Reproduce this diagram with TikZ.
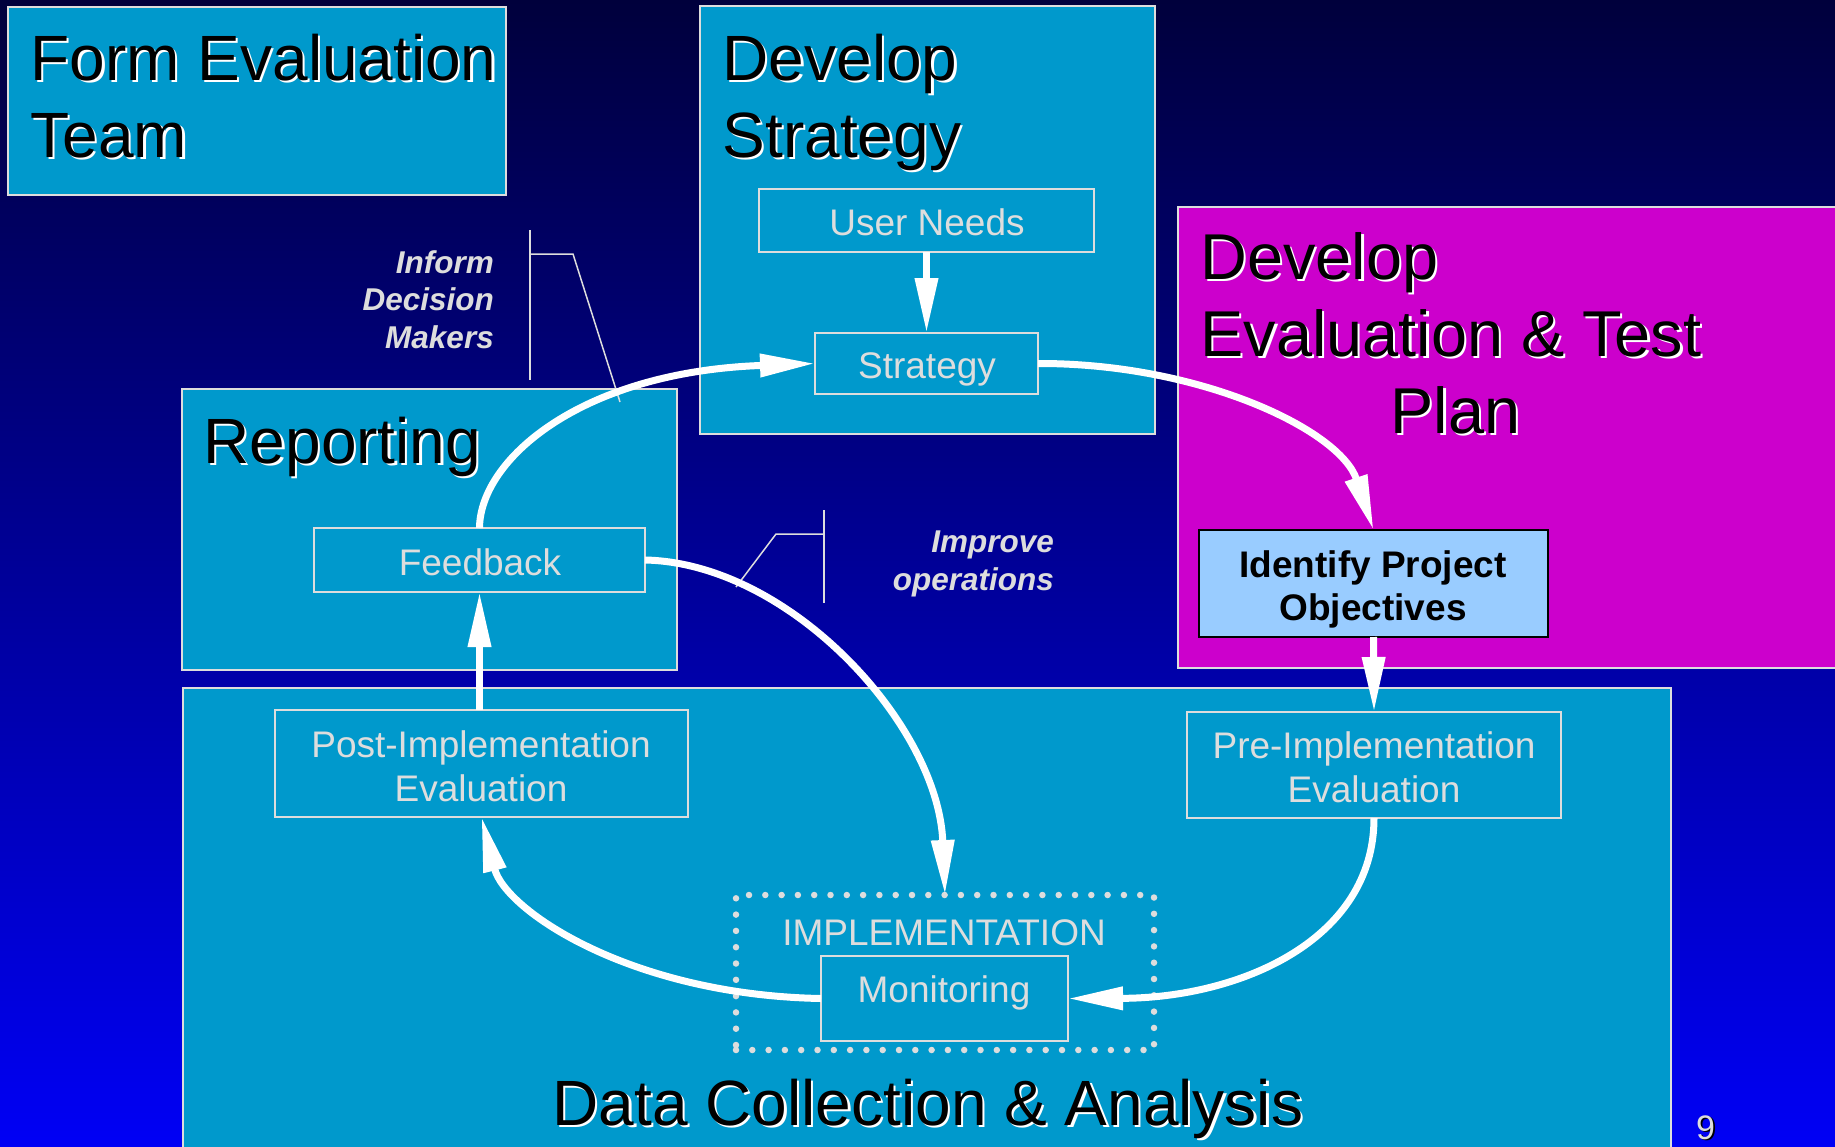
\documentclass[tikz,border=0pt]{standalone}
\usepackage{fontspec}
\setmainfont{Liberation Sans}
\usetikzlibrary{arrows.meta,calc}
\definecolor{bgtop}{RGB}{0,0,60}
\definecolor{bgbot}{RGB}{0,0,245}
\definecolor{cyanbox}{RGB}{0,153,204}
\definecolor{magbox}{RGB}{204,0,204}
\definecolor{idbox}{RGB}{153,204,255}
\definecolor{lgray}{RGB}{221,221,221}
\newcommand\shd[1]{\leavevmode\rlap{\kern2.2pt\raisebox{-2.2pt}{\textcolor{white}{#1}}}\textcolor{black}{#1}}
\newcommand\dshd[1]{\leavevmode\rlap{\kern1.6pt\raisebox{-1.6pt}{\textcolor{black}{#1}}}\textcolor{lgray}{#1}}
\begin{document}
\begin{tikzpicture}[x=1pt,y=-1pt,
  container/.style={draw=lgray, line width=2.5pt, fill=cyanbox, anchor=north west, inner sep=0pt, outer sep=0pt},
  inbox/.style={draw=lgray, line width=1.8pt, anchor=north west, inner sep=0pt, outer sep=0pt},
  titletext/.style={font=\fontsize{64}{77}\selectfont, align=left, inner sep=0pt, anchor=base west},
  boxtext/.style={font=\fontsize{37}{44}\selectfont, text=lgray, align=center, inner sep=0pt, anchor=base},
  notetext/.style={font=\fontsize{31.5}{37.5}\selectfont\bfseries\itshape, text=lgray, align=right, inner sep=0pt, anchor=base east},
  flow/.style={draw=white, line width=7pt, -{Triangle[length=55pt,width=22pt]}},
  bracket/.style={draw=lgray, line width=1.5pt}
]
\useasboundingbox (0,0) rectangle (1835,1146);
\shade[top color=bgtop, bottom color=bgbot] (0,0) rectangle (1835,1146);

% containers
\node[container, minimum width=498pt, minimum height=188pt] (fet) at (8,7) {};
\node[container, minimum width=455pt, minimum height=428pt] (dstrat) at (700,6) {};
\node[container, minimum width=495pt, minimum height=281pt] (rep) at (182,389) {};
\node[container, fill=magbox, minimum width=672pt, minimum height=461pt] (mag) at (1178,207) {};
\node[container, minimum width=1488pt, minimum height=472pt] (data) at (183,688) {};

% titles (multi-line nodes are placed by the baseline of their last line)
\node[titletext] (fetT) at (30.5,157) {\shd{Form Evaluation}\\\shd{Team}};
\node[titletext] (dsT) at (722.5,157) {\shd{Develop}\\\shd{Strategy}};
\node[titletext] (repT) at (203.5,463) {\shd{Reporting}};
\node[titletext, font=\fontsize{64.8}{77}\selectfont] (magT) at (1200.5,433) {\shd{Develop}\\\shd{Evaluation \& Test}\\\hspace*{190pt}\shd{Plan}};
\node[titletext, anchor=base, align=center] (dataT) at (928,1125) {\shd{Data Collection \& Analysis}};

% inner boxes
\node[inbox, minimum width=335pt, minimum height=63pt] (un) at (759,189) {};
\node[inbox, minimum width=223pt, minimum height=61pt] (st) at (815,333) {};
\node[inbox, minimum width=331pt, minimum height=64pt] (fb) at (314,528) {};
\node[inbox, minimum width=413pt, minimum height=107pt] (post) at (275,710) {};
\node[inbox, minimum width=374pt, minimum height=106pt] (pre) at (1187,712) {};
\node[inbox, draw=black, line width=2.5pt, fill=idbox, minimum width=349pt, minimum height=107pt] (ipo) at (1199,530) {};
\node[inbox, draw=lgray, line width=6.5pt, line cap=round, dash pattern=on 0pt off 16.3pt, minimum width=418pt, minimum height=155pt] (impl) at (736,895) {};
\node[inbox, minimum width=247pt, minimum height=85pt] (mon) at (821,956) {};

% inner texts
\node[boxtext] (unT) at (927,235) {User Needs};
\node[boxtext] (stT) at (927,378) {Strategy};
\node[boxtext] (fbT) at (480,575) {Feedback};
\node[boxtext] (postT) at (481,801) {Post-Implementation\\Evaluation};
\node[boxtext] (preT) at (1374,802) {Pre-Implementation\\Evaluation};
\node[boxtext, text=black, font=\fontsize{37}{43}\selectfont\bfseries] (ipoT) at (1373,620) {Identify Project\\Objectives};
\node[boxtext] (implT) at (944,945) {IMPLEMENTATION};
\node[boxtext] (monT) at (944,1002) {Monitoring};

% notes
\node[notetext] (infT) at (494,348) {Inform\\Decision\\Makers};
\node[notetext] (impT) at (1054,590) {Improve\\operations};
\node[inner sep=0pt, anchor=base west, font=\fontsize{34}{40}\selectfont] (pg) at (1696,1139) {\dshd{9}};

% brackets
\coordinate (b1a) at (530,230);
\coordinate (b1b) at (530,380);
\coordinate (b1c) at (530,254);
\coordinate (b1d) at (573,254);
\coordinate (b1e) at (620,402);
\draw[bracket] (b1a) -- (b1b);
\draw[bracket] (b1c) -- (b1d) -- (b1e);
\coordinate (b2a) at (824,510);
\coordinate (b2b) at (824,603);
\coordinate (b2c) at (824,534);
\coordinate (b2d) at (776,534);
\coordinate (b2e) at (736,587);
\draw[bracket] (b2a) -- (b2b);
\draw[bracket] (b2c) -- (b2d) -- (b2e);

% flows
\draw[flow] (un.south) -- (st.north);
\draw[flow] (ipo.south) -- (pre.north);
\draw[flow] (post.north -| fb.south) -- (fb.south);
\draw[flow] (fb.north) .. controls (480,460) and (580,372) .. (st.west);
\draw[flow] (st.east) .. controls (1200,363) and (1340,430) .. (ipo.north);
\draw[flow] (fb.east) .. controls (790,563) and (938,725) .. (impl.north);
\draw[flow] (pre.south) .. controls (1374,940) and (1240,998) .. (mon.east);
\draw[flow] (mon.west) .. controls (630,995) and (505,910) .. (post.south);
\end{tikzpicture}
\end{document}
